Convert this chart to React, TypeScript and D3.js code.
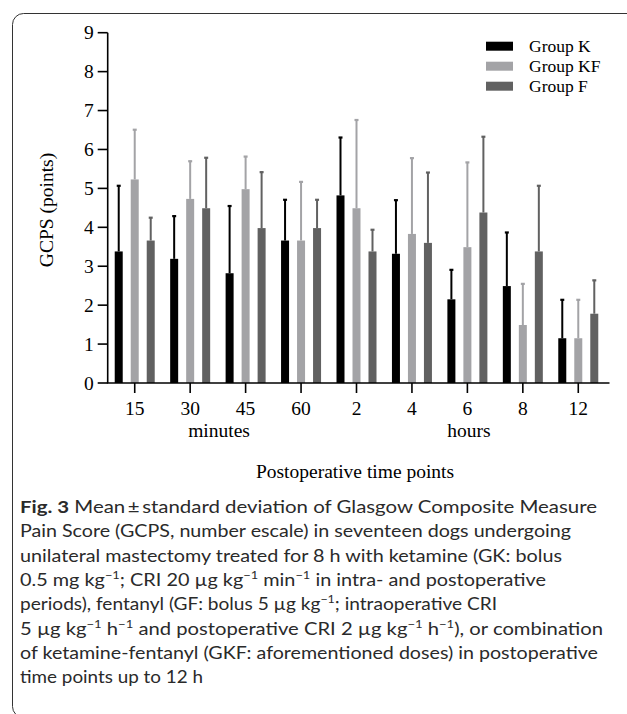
import React from "react";
import * as d3 from "d3";

const categories = ["15", "30", "45", "60", "2", "4", "6", "8", "12"];
const series = ["Group K", "Group KF", "Group F"];
const colors = ["#000000", "#a3a3a6", "#616161"];
const meanK = [3.38, 3.19, 2.82, 3.66, 4.82, 3.32, 2.15, 2.49, 1.15];
const sdTopK = [5.08, 4.3, 4.56, 4.72, 6.32, 4.71, 2.92, 3.88, 2.15];
const meanKF = [5.23, 4.73, 4.98, 3.66, 4.49, 3.83, 3.49, 1.49, 1.15];
const sdTopKF = [6.52, 5.71, 5.83, 5.18, 6.77, 5.79, 5.68, 2.56, 2.15];
const meanF = [3.66, 4.49, 3.98, 3.98, 3.38, 3.6, 4.38, 3.38, 1.78];
const sdTopF = [4.26, 5.8, 5.43, 4.72, 3.95, 5.42, 6.34, 5.08, 2.65];
const yTicks = [0, 1, 2, 3, 4, 5, 6, 7, 8, 9];

const means = [meanK, meanKF, meanF];
const tops = [sdTopK, sdTopKF, sdTopF];

const captionLines: { parts: { t: string; sup?: boolean; bold?: boolean }[]; width: number }[] = [
  { parts: [{ t: "Fig. 3", bold: true }, { t: "  Mean\u2009\u00b1\u2009standard deviation of Glasgow Composite Measure" }], width: 577 },
  { parts: [{ t: "Pain Score (GCPS, number escale) in seventeen dogs undergoing" }], width: 551 },
  { parts: [{ t: "unilateral mastectomy treated for 8 h with ketamine (GK: bolus" }], width: 542 },
  { parts: [{ t: "0.5 mg kg" }, { t: "\u22121", sup: true }, { t: "; CRI 20 \u00b5g kg" }, { t: "\u22121", sup: true }, { t: " min" }, { t: "\u22121", sup: true }, { t: " in intra- and postoperative" }], width: 526 },
  { parts: [{ t: "periods), fentanyl (GF: bolus 5 \u00b5g kg" }, { t: "\u22121", sup: true }, { t: "; intraoperative CRI" }], width: 477 },
  { parts: [{ t: "5 \u00b5g kg" }, { t: "\u22121", sup: true }, { t: " h" }, { t: "\u22121", sup: true }, { t: " and postoperative CRI 2 \u00b5g kg" }, { t: "\u22121", sup: true }, { t: " h" }, { t: "\u22121", sup: true }, { t: "), or combination" }], width: 583 },
  { parts: [{ t: "of ketamine-fentanyl (GKF: aforementioned doses) in postoperative" }], width: 578 },
  { parts: [{ t: "time points up to 12 h" }], width: 183 },
];

export default function App() {
  const W = 627, H = 714;
  const x0 = d3.scaleBand<string>().domain(categories).range([107, 606]).paddingInner(0).paddingOuter(0);
  const x1 = d3.scaleBand<string>().domain(series).range([-24, 24]);
  const y = d3.scaleLinear().domain([0, 9]).range([383, 32.7]);
  const barW = 8;
  const serif = "'Liberation Serif', 'Times New Roman', serif";
  const sans = "Lato, 'Open Sans', sans-serif";
  const axisLeft = 107.7;

  return (
    <svg width={W} height={H} style={{ position: "absolute", left: 0, top: 0, background: "#fff" }}>
      <rect x={12.5} y={13.5} width={700} height={704} rx={11} fill="none" stroke="#333" strokeWidth={1} />
      {/* bars */}
      {categories.map((c, i) => (
        <g key={c}>
          {series.map((s, j) => {
            const cx = (x0(c) as number) + x0.bandwidth() / 2 + (x1(s) as number) + x1.bandwidth() / 2;
            const m = means[j][i];
            const t = tops[j][i];
            return (
              <g key={s}>
                <line x1={cx} x2={cx} y1={y(m)} y2={y(t)} stroke={colors[j]} strokeWidth={2} />
                <line x1={cx - 2} x2={cx + 2} y1={y(t) + 0.5} y2={y(t) + 0.5} stroke={colors[j]} strokeWidth={2.2} />
                <rect x={cx - barW / 2} y={y(m)} width={barW} height={y(0) - y(m)} fill={colors[j]} />
              </g>
            );
          })}
        </g>
      ))}
      {/* y axis */}
      <line x1={axisLeft} x2={axisLeft} y1={y(9)} y2={y(0)} stroke="#000" strokeWidth={1.6} />
      {yTicks.map((v) => (
        <g key={v}>
          <line x1={axisLeft - 10} x2={axisLeft} y1={y(v)} y2={y(v)} stroke="#000" strokeWidth={1.6} />
          <text x={axisLeft - 14} y={y(v) + 6.5} textAnchor="end" fontFamily={serif} fontSize={19.5}>{v}</text>
        </g>
      ))}
      {/* x axis */}
      <line x1={axisLeft - 0.8} x2={609.5} y1={y(0)} y2={y(0)} stroke="#000" strokeWidth={1.6} />
      {categories.map((c) => {
        const cx = (x0(c) as number) + x0.bandwidth() / 2;
        return (
          <g key={c}>
            <line x1={cx} x2={cx} y1={y(0)} y2={y(0) + 10} stroke="#000" strokeWidth={1.6} />
            <text x={cx} y={415} textAnchor="middle" fontFamily={serif} fontSize={19.5}>{c}</text>
          </g>
        );
      })}
      <text x={219} y={437} textAnchor="middle" fontFamily={serif} fontSize={19.5}>minutes</text>
      <text x={469} y={437} textAnchor="middle" fontFamily={serif} fontSize={19.5}>hours</text>
      <text x={355} y={478} textAnchor="middle" fontFamily={serif} fontSize={19.5}>Postoperative time points</text>
      <text transform={`translate(53,210) rotate(-90)`} textAnchor="middle" fontFamily={serif} fontSize={19.5}>GCPS (points)</text>
      {/* legend */}
      {series.map((s, j) => (
        <g key={s} transform={`translate(486,${41.7 + j * 20})`}>
          <rect x={0} y={0} width={27} height={9} fill={colors[j]} />
          <text x={43} y={10.5} fontFamily={serif} fontSize={17.5}>{s}</text>
        </g>
      ))}
      {/* caption */}
      {captionLines.map((ln, k) => (
        <text key={k} x={20} y={513 + k * 24.3} fontFamily={sans} fontSize={17} fill="#2a2a2a" textLength={ln.width} lengthAdjust="spacingAndGlyphs">
          {ln.parts.map((p, q) =>
            p.sup ? (
              <tspan key={q} fontSize={11} dy={-7}>{p.t}</tspan>
            ) : (
              <tspan key={q} fontWeight={p.bold ? "bold" : "normal"} dy={q > 0 && ln.parts[q - 1].sup ? 7 : 0}>{p.t}</tspan>
            )
          )}
        </text>
      ))}
    </svg>
  );
}
